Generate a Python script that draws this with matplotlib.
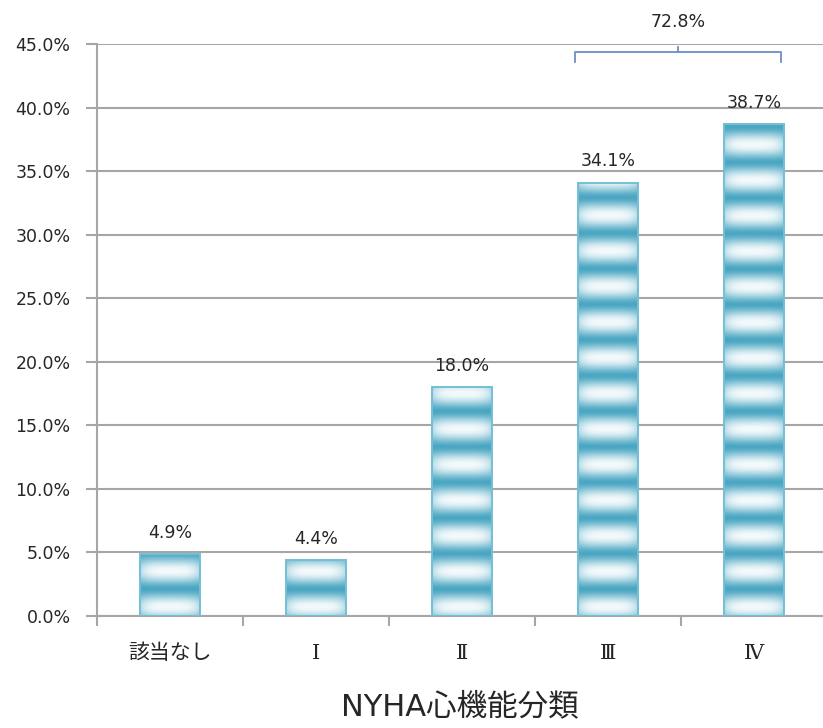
import numpy as np
import matplotlib.pyplot as plt
from matplotlib.colors import to_rgb

plt.rcParams['font.family'] = ['DejaVu Sans', 'Noto Sans CJK JP']

categories = ['該当なし', 'Ⅰ', 'Ⅱ', 'Ⅲ', 'Ⅳ']
values = [4.9, 4.4, 18.0, 34.1, 38.7]
yticks = [0, 5, 10, 15, 20, 25, 30, 35, 40, 45]
total_label = '72.8%'

dark = np.array(to_rgb('#4aa6c2'))
light = np.array(to_rgb('#f4fafc'))
edge = '#74bfd5'
grid_col = '#a6a6a6'
text_col = '#262626'

fig = plt.figure(figsize=(8.23, 7.28), dpi=100)
ax = fig.add_axes([97 / 823, 112 / 728, 726 / 823, 572 / 728])

x = np.arange(len(categories))
bw = 0.41

# striped fill: dark band every 2.8 units, soft white highlight in between
ys = np.linspace(0, 45, 1200)
phase = (ys - 2.1) / 2.8
w = ((1 - np.cos(2 * np.pi * phase)) / 2) ** 0.8
xs = np.linspace(-1, 1, 60)
hfade = 1 - 0.35 * xs ** 4
W = w[:, None] * hfade[None, :]
img = dark[None, None, :] * (1 - W[..., None]) + light[None, None, :] * W[..., None]

bars = ax.bar(x, values, width=bw, color='none', edgecolor=edge, linewidth=1.4, zorder=3)
for b, v in zip(bars, values):
    x0 = b.get_x()
    im = ax.imshow(img, extent=[x0, x0 + bw, 0, 45], origin='lower',
                   aspect='auto', interpolation='bilinear', zorder=2)
    im.set_clip_path(b)
    ax.text(b.get_x() + bw / 2, v + 0.95, f'{v:.1f}%', ha='center', va='bottom',
            fontsize=12.5, color=text_col, family='DejaVu Sans')

ax.set_xlim(-0.5, 4.473)
ax.set_ylim(0, 45)
ax.set_yticks(yticks)
ax.set_yticklabels([f'{t:.1f}%' for t in yticks], fontsize=12.5, color=text_col,
                   family='DejaVu Sans')
ax.yaxis.grid(True, color=grid_col, linewidth=1.5, zorder=0)
ax.set_axisbelow(True)

ax.set_xticks(x)
ax.set_xticklabels(categories, fontsize=15, color=text_col,
                   family=['DejaVu Serif', 'Noto Sans CJK JP'])
ax.tick_params(axis='x', length=0, pad=20)
ax.set_xticks(np.arange(-0.5, 4.5, 1.0), minor=True)
ax.tick_params(axis='x', which='minor', length=7, width=1.5, color=grid_col)
ax.tick_params(axis='y', length=8, width=1.5, color=grid_col, pad=11)

for s in ['top', 'right']:
    ax.spines[s].set_visible(False)
for s in ['left', 'bottom']:
    ax.spines[s].set_color(grid_col)
    ax.spines[s].set_linewidth(1.5)

ax.set_xlabel('NYHA心機能分類', fontsize=22, color=text_col,
              family=['DejaVu Sans', 'Noto Sans CJK JP'], labelpad=21)

# bracket over the two severe classes
bx0, bx1 = 3 - bw / 2 - 0.02, 4 + bw / 2 - 0.02
bxm = (bx0 + bx1) / 2
bcol = '#6d8ec6'
ax.plot([bx0, bx0, bx1, bx1], [43.6, 44.35, 44.35, 43.6], color=bcol, lw=1.3,
        clip_on=False, zorder=4)
ax.plot([bxm, bxm], [44.35, 44.8], color=bcol, lw=1.3, clip_on=False, zorder=4)
ax.text(bxm, 46.0, total_label, ha='center', va='bottom', fontsize=12.5,
        color=text_col, family='DejaVu Sans', clip_on=False)

fig.savefig('out.png', dpi=100)
